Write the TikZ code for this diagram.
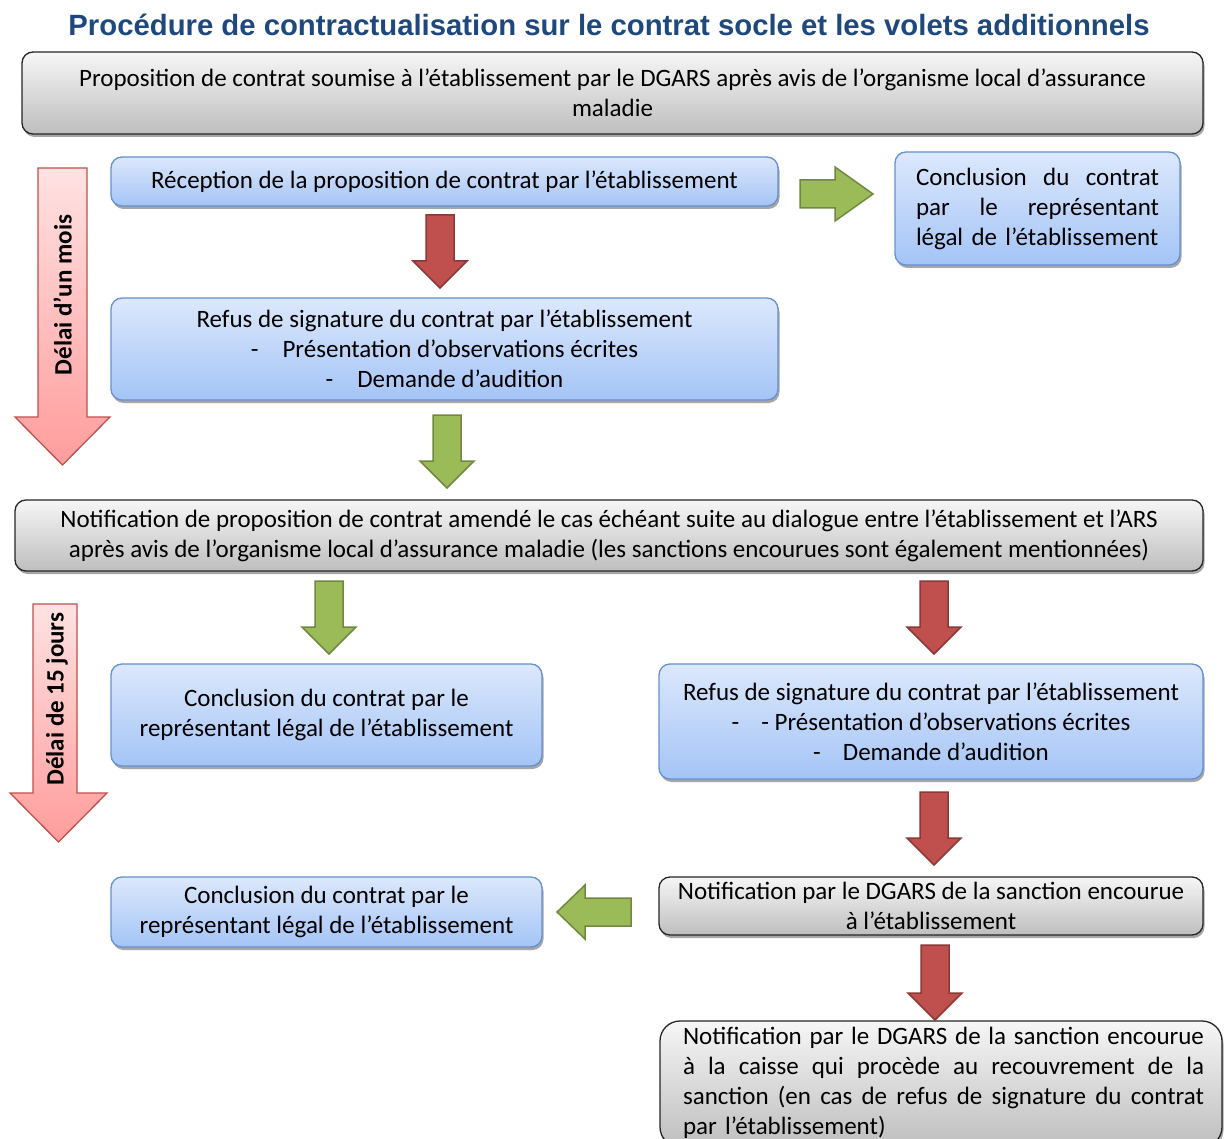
\documentclass[tikz,border=0pt]{standalone}
\usepackage{fontspec}
\setmainfont{Carlito}
\newfontfamily\titlefont{Liberation Sans}
\usetikzlibrary{shadows}
\definecolor{titleblue}{RGB}{31,73,125}
\definecolor{bluetop}{RGB}{220,232,252}
\definecolor{bluebot}{RGB}{164,196,246}
\definecolor{blueline}{RGB}{100,145,210}
\definecolor{graytop}{RGB}{246,246,246}
\definecolor{graybot}{RGB}{190,190,190}
\definecolor{grline}{RGB}{155,187,89}
\definecolor{grdraw}{RGB}{113,137,63}
\definecolor{rdfill}{RGB}{192,80,77}
\definecolor{rddraw}{RGB}{140,56,54}
\definecolor{pktop}{RGB}{255,226,226}
\definecolor{pkbot}{RGB}{255,156,156}
\newcommand\jl[2]{\leavevmode\hbox to #1{#2}}
\newcommand\blkdown[4]{%
  \path[#1] (#2-14,#3) -- (#2+14,#3) -- (#2+14,#4-27) -- (#2+27,#4-27) -- (#2,#4)
    -- (#2-27,#4-27) -- (#2-14,#4-27) -- cycle;}
\tikzset{
  txt/.style={font=\fontsize{25}{30}\selectfont, text=black},
  boxbase/.style={txt, rectangle, rounded corners=11pt, line width=1.3pt, align=center,
    inner sep=0pt, drop shadow={shadow xshift=1.5pt, shadow yshift=-3pt, opacity=.35, fill=black}},
  bluebox/.style={boxbase, draw=blueline, top color=bluetop, bottom color=bluebot},
  graybox/.style={boxbase, draw=black!85, top color=graytop, bottom color=graybot},
  greenarr/.style={fill=grline, draw=grdraw, line width=1.5pt, line join=miter},
  redarr/.style={fill=rdfill, draw=rddraw, line width=1.5pt, line join=miter},
  pinkarr/.style={top color=pktop, bottom color=pkbot, draw=rdfill, line width=1.3pt},
  sidetxt/.style={font=\fontsize{25}{28}\selectfont\bfseries, rotate=90}
}
\begin{document}
\begin{tikzpicture}[x=1pt,y=-1pt]
\useasboundingbox[fill=white] (0,0) rectangle (1226,1139);

\node[font=\titlefont\bfseries\fontsize{29.3}{32}\selectfont, text=titleblue] (title) at (609,25)
  {Procédure de contractualisation sur le contrat socle et les volets additionnels};

% pink delay arrows
\path[pinkarr] (38,168) -- (87,168) -- (87,417) -- (110,417) -- (62.5,465) -- (15,417) -- (38,417) -- cycle;
\node[sidetxt] (d1) at (62.5,295) {Délai d’un mois};
\path[pinkarr] (33,604) -- (77,604) -- (77,793) -- (107,793) -- (58.5,842) -- (10,793) -- (33,793) -- cycle;
\node[sidetxt] (d2) at (57,699) {Délai de 15 jours};

% boxes
\node[graybox, minimum width=1181, minimum height=82] (b1) at (612.5,93)
  {Proposition de contrat soumise à l’établissement par le DGARS après avis de l’organisme local d’assurance\\maladie};
\node[bluebox, minimum width=667, minimum height=49] (b2) at (444.5,181.5)
  {Réception de la proposition de contrat par l’établissement};
\node[bluebox, minimum width=285, minimum height=113, text width=243, align=left] (b3) at (1037.5,208.5)
  {\jl{243pt}{Conclusion\hfill du\hfill contrat}\\
   \jl{243pt}{par\hfill le\hfill représentant}\\
   \jl{243pt}{légal de l’établissement\hfill}};
\node[bluebox, minimum width=667, minimum height=102] (b4) at (444.5,349)
  {Refus de signature du contrat par l’établissement\\
   -\hspace{24pt}Présentation d’observations écrites\\
   -\hspace{24pt}Demande d’audition};
\node[graybox, minimum width=1188, minimum height=71] (b5) at (609,535.5)
  {Notification de proposition de contrat amendé le cas échéant suite au dialogue entre l’établissement et l’ARS\\
   après avis de l’organisme local d’assurance maladie (les sanctions encourues sont également mentionnées)};
\node[bluebox, minimum width=431, minimum height=102] (b6) at (326.5,715)
  {Conclusion du contrat par le\\représentant légal de l’établissement};
\node[bluebox, minimum width=544, minimum height=115] (b7) at (931,721.5)
  {Refus de signature du contrat par l’établissement\\
   -\hspace{22pt}- Présentation d’observations écrites\\
   -\hspace{22pt}Demande d’audition};
\node[graybox, minimum width=544, minimum height=58] (b8) at (931,906)
  {Notification par le DGARS de la sanction encourue\\à l’établissement};
\node[bluebox, minimum width=431, minimum height=70] (b9) at (326.5,912)
  {Conclusion du contrat par le\\représentant légal de l’établissement};
\node[graybox, rounded corners=20pt, minimum width=562, minimum height=126] (b10) at (941,1084) {};
\node[txt, inner sep=0pt, text width=521, align=left] (b10t) at (943.5,1083)
  {\jl{521pt}{Notification\hfill par\hfill le\hfill DGARS\hfill de\hfill la\hfill sanction\hfill encourue}\\
   \jl{521pt}{à\hfill la\hfill caisse\hfill qui\hfill procède\hfill au\hfill recouvrement\hfill de\hfill la}\\
   \jl{521pt}{sanction\hfill (en\hfill cas\hfill de\hfill refus\hfill de\hfill signature\hfill du\hfill contrat}\\
   \jl{521pt}{par l’établissement)\hfill}};

% block arrows between boxes
\path[greenarr] (800,180) -- (835,180) -- (835,167) -- (873,194) -- (835,221) -- (835,208) -- (800,208) -- cycle;
\blkdown{redarr}{440}{215}{288}
\blkdown{greenarr}{447}{415}{488}
\blkdown{greenarr}{329}{581}{654}
\blkdown{redarr}{934}{581}{654}
\blkdown{redarr}{934}{792}{865}
\path[greenarr] (631,898) -- (585,898) -- (585,885) -- (557,912) -- (585,939) -- (585,926) -- (631,926) -- cycle;
\blkdown{redarr}{935}{945}{1020}
\end{tikzpicture}
\end{document}
